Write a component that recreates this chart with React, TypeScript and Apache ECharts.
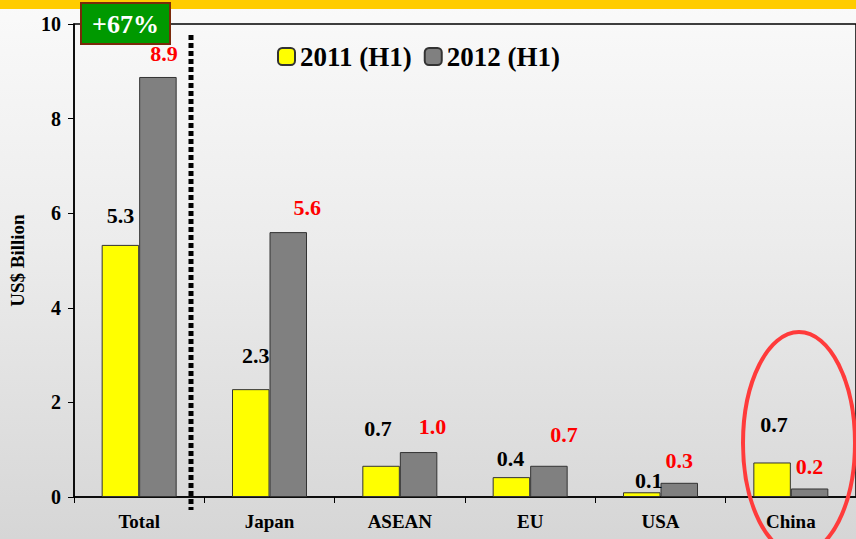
import React, { useEffect, useRef } from "react";
import * as echarts from "echarts";

const categories = ["Total", "Japan", "ASEAN", "EU", "USA", "China"];
const values2011 = [5.33, 2.28, 0.66, 0.42, 0.1, 0.73];
const values2012 = [8.88, 5.6, 0.95, 0.66, 0.3, 0.18];
const yTicks = [0, 2, 4, 6, 8, 10];
const seriesNames = ["2011 (H1)", "2012 (H1)"];
const growthLabel = "+67%";

// label nudges (style only)
const offsets2011 = [[0, -13], [5, -18], [-3, -21], [-1, -3], [7, 4], [2, -22]];
const offsets2012 = [[6, -7], [19, -9], [14, -10], [15, -15], [0, -6], [0, -6]];

const SERIF = "Liberation Serif";

export default function App() {
  const ref = useRef<HTMLDivElement>(null);
  useEffect(() => {
    if (!ref.current) return;
    const chart = echarts.init(ref.current, null, { renderer: "svg" });
    const fmt = (p: any) => (Math.round(p.value * 10) / 10).toFixed(1);
    const mk = (vals: number[], offs: number[][]) =>
      vals.map((v, i) => ({
        value: v,
        label: { offset: offs[i] },
      }));
    chart.setOption({
      animation: false,
      backgroundColor: "transparent",
      textStyle: { fontFamily: SERIF },
      legend: {
        left: 272,
        top: 38,
        itemWidth: 17,
        itemHeight: 17,
        itemGap: 12,
        textStyle: { fontFamily: SERIF, fontWeight: "bold", fontSize: 27, color: "#000" },
        data: seriesNames,
      },
      grid: {
        left: 73,
        top: 24,
        width: 788,
        bottom: 42,
        show: true,
        borderColor: "#000",
        borderWidth: 1.5,
        backgroundColor: "transparent",
      },
      xAxis: {
        type: "category",
        data: categories,
        axisLine: { lineStyle: { color: "#000", width: 1.5 } },
        axisTick: { show: true, length: 6, lineStyle: { color: "#000", width: 1 } },
        axisLabel: {
          fontFamily: SERIF,
          fontWeight: "bold",
          fontSize: 19,
          color: "#000",
          margin: 15,
        },
      },
      yAxis: {
        type: "value",
        min: yTicks[0],
        max: yTicks[yTicks.length - 1],
        interval: 2,
        name: "US$ Billion",
        nameLocation: "middle",
        nameGap: 47,
        nameTextStyle: { fontFamily: SERIF, fontWeight: "bold", fontSize: 19, color: "#000" },
        axisLine: { show: true, lineStyle: { color: "#000", width: 1.5 } },
        axisTick: { show: true, length: 6, lineStyle: { color: "#000" } },
        splitLine: { show: false },
        axisLabel: {
          fontFamily: SERIF,
          fontWeight: "bold",
          fontSize: 20,
          color: "#000",
          margin: 13,
        },
      },
      series: [
        {
          name: seriesNames[0],
          type: "bar",
          barWidth: 37.5,
          barGap: "0%",
          itemStyle: { color: "#ffff00", borderColor: "#333", borderWidth: 1 },
          label: {
            show: true,
            position: "top",
            formatter: fmt,
            fontFamily: SERIF,
            fontWeight: "bold",
            fontSize: 22,
            color: "#000",
          },
          data: mk(values2011, offsets2011),
        },
        {
          name: seriesNames[1],
          type: "bar",
          barWidth: 37.5,
          barGap: "0%",
          itemStyle: { color: "#808080", borderColor: "#333", borderWidth: 1 },
          label: {
            show: true,
            position: "top",
            formatter: fmt,
            fontFamily: SERIF,
            fontWeight: "bold",
            fontSize: 22,
            color: "#ff0000",
          },
          data: mk(values2012, offsets2012),
        },
      ],
      graphic: [
        {
          type: "rect",
          shape: { x: 0, y: 0, width: 856, height: 9 },
          style: { fill: "#ffcc00" },
          z: 0,
        },
        {
          type: "line",
          shape: { x1: 191, y1: 35, x2: 191, y2: 510 },
          style: { stroke: "#000", lineWidth: 5, lineDash: [5, 3] },
          z: 10,
        },
        {
          type: "group",
          z: 20,
          children: [
            {
              type: "rect",
              shape: { x: 81, y: 3, width: 89, height: 41 },
              style: { fill: "#009900", stroke: "#7a2a0a", lineWidth: 2 },
            },
            {
              type: "text",
              x: 125.5,
              y: 24,
              style: {
                text: growthLabel,
                fill: "#fff",
                fontFamily: SERIF,
                fontWeight: "bold",
                fontSize: 26,
                align: "center",
                verticalAlign: "middle",
              },
            },
          ],
        },
        {
          type: "ellipse",
          shape: { cx: 799, cy: 443, rx: 56, ry: 111 },
          style: { fill: "none", stroke: "#ff3b3b", lineWidth: 4 },
          z: 30,
        },
      ],
    });
    return () => chart.dispose();
  }, []);
  return (
    <div
      style={{
        position: "absolute",
        left: 0,
        top: 0,
        width: 856,
        height: 539,
        background: "linear-gradient(180deg, #fafafa 0%, #ececec 45%, #d6d6d6 100%)",
        overflow: "hidden",
      }}
    >
      <div ref={ref} style={{ width: 856, height: 539 }} />
    </div>
  );
}
